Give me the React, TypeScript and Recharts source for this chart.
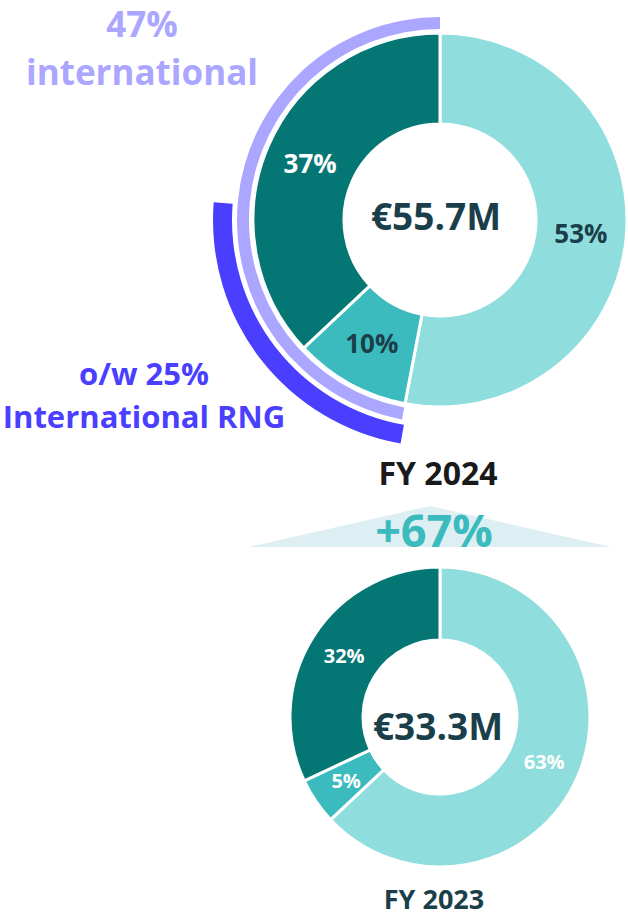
import React from 'react';
import { PieChart, Pie, Cell, Customized } from 'recharts';

const segmentNames = ['Segment A', 'Segment B', 'Segment C'];
const segmentColors = ['#8FDEDD', '#3BBBBD', '#047673'];
const fy2024Values = [53, 10, 37];
const fy2023Values = [63, 5, 32];
const fy2024LabelColors = ['#1B3F4A', '#1B3F4A', '#FFFFFF'];
const fy2023LabelColors = ['#FFFFFF', '#FFFFFF', '#FFFFFF'];
const totals = ['€55.7M', '€33.3M'];
const yearLabels = ['FY 2024', 'FY 2023'];
const internationalShare = [47];
const internationalText = ['47%', 'international'];
const rngShare = [25];
const rngText = ['o/w 25%', 'International RNG'];
const growthLabel = '+67%';

const FONT = '"Open Sans", "Noto Sans", sans-serif';
const RAD = Math.PI / 180;

const data2024 = segmentNames.map((name, i) => ({ name, value: fy2024Values[i] }));
const data2023 = segmentNames.map((name, i) => ({ name, value: fy2023Values[i] }));
const intlData = [{ name: 'International', value: internationalShare[0] }];
const rngData = [{ name: 'International RNG', value: rngShare[0] }];

const makeLabel = (fontSize: number, colors: string[]) => (props: any) => {
  const { cx, cy, midAngle, innerRadius, outerRadius, value, index } = props;
  const r = (Number(innerRadius) + Number(outerRadius)) / 2;
  const x = cx + r * Math.cos(-midAngle * RAD);
  const y = cy + r * Math.sin(-midAngle * RAD);
  return (
    <text
      x={x}
      y={y + 0.357 * fontSize}
      textAnchor="middle"
      fill={colors[index]}
      fontFamily={FONT}
      fontWeight={700}
      fontSize={fontSize}
    >
      {value}%
    </text>
  );
};

const Decorations = () => (
  <g fontFamily={FONT} fontWeight={700} textAnchor="middle">
    <text x={142} y={37} fontSize={35} fill="#ABA6FF">{internationalText[0]}</text>
    <text x={142} y={85} fontSize={35} fill="#ABA6FF">{internationalText[1]}</text>
    <text x={144} y={385} fontSize={31} fill="#4B3FFF">{rngText[0]}</text>
    <text x={144} y={428} fontSize={31} fill="#4B3FFF">{rngText[1]}</text>
    <text x={436} y={230} fontSize={37} fill="#1B3F4A">{totals[0]}</text>
    <text x={438} y={485} fontSize={32} fill="#1A1A1A">{yearLabels[0]}</text>
    <polygon points="248,547 430,506 611,547" fill="#DEEFF4" />
    <text x={434} y={547} fontSize={45} fill="#3BBBBD">{growthLabel}</text>
    <text x={438} y={740} fontSize={37} fill="#1B3F4A">{totals[1]}</text>
    <text x={434} y={909} fontSize={27} fill="#1B3F4A">{yearLabels[1]}</text>
  </g>
);

export default function App() {
  return (
    <div style={{ position: 'absolute', left: 0, top: 0, width: 628, height: 917, background: '#fff' }}>
      <PieChart width={628} height={917} margin={{ top: 0, right: 0, bottom: 0, left: 0 }}>
        <Pie
          data={intlData}
          dataKey="value"
          cx={440}
          cy={220}
          startAngle={90}
          endAngle={90 + internationalShare[0] * 3.6}
          innerRadius={191}
          outerRadius={203}
          stroke="none"
          fill="#ABA6FF"
          isAnimationActive={false}
        />
        <Pie
          data={rngData}
          dataKey="value"
          cx={440}
          cy={220}
          startAngle={175.5}
          endAngle={260}
          innerRadius={208}
          outerRadius={227}
          stroke="none"
          fill="#4B3FFF"
          isAnimationActive={false}
        />
        <Pie
          data={data2024}
          dataKey="value"
          cx={440}
          cy={220}
          startAngle={90}
          endAngle={-270}
          innerRadius={96}
          outerRadius={187}
          stroke="#FFFFFF"
          strokeWidth={3}
          labelLine={false}
          label={makeLabel(26, fy2024LabelColors)}
          isAnimationActive={false}
        >
          {data2024.map((d, i) => (
            <Cell key={d.name} fill={segmentColors[i]} />
          ))}
        </Pie>
        <Pie
          data={data2023}
          dataKey="value"
          cx={440}
          cy={717}
          startAngle={90}
          endAngle={-270}
          innerRadius={77}
          outerRadius={150}
          stroke="#FFFFFF"
          strokeWidth={3}
          labelLine={false}
          label={makeLabel(20, fy2023LabelColors)}
          isAnimationActive={false}
        >
          {data2023.map((d, i) => (
            <Cell key={d.name} fill={segmentColors[i]} />
          ))}
        </Pie>
        <Customized component={Decorations} />
      </PieChart>
    </div>
  );
}
